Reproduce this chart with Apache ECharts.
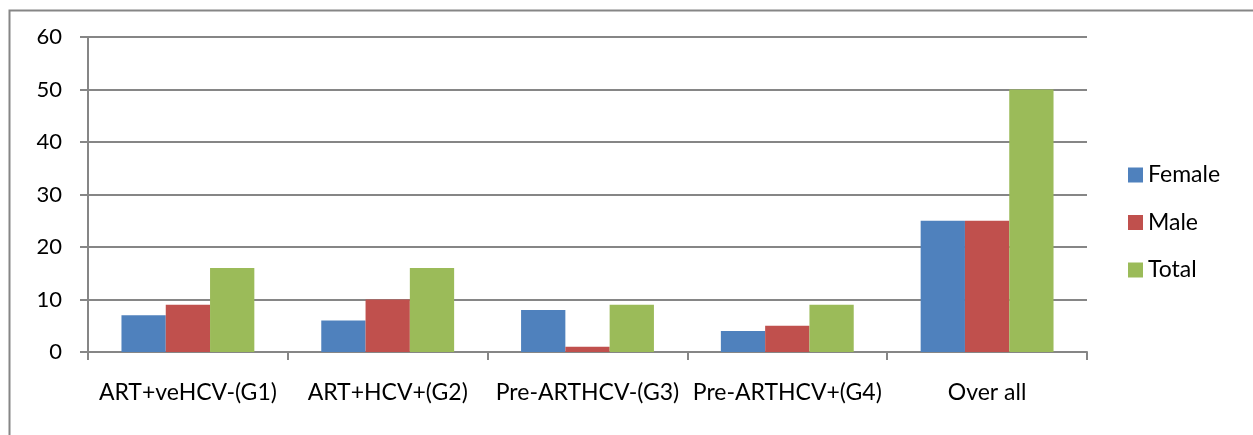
<!DOCTYPE html>
<html>
<head>
<meta charset="utf-8">
<script src="https://cdn.jsdelivr.net/npm/echarts@6/dist/echarts.min.js"></script>
<style>html,body{margin:0;padding:0;background:#fff;}#c{width:1253px;height:435px;}</style>
</head>
<body>
<div id="c"></div>
<script>
const categories = ['ART+veHCV-(G1)', 'ART+HCV+(G2)', 'Pre-ARTHCV-(G3)', 'Pre-ARTHCV+(G4)', 'Over all'];
const female = [7, 6, 8, 4, 25];
const male = [9, 10, 1, 5, 25];
const total = [16, 16, 9, 9, 50];
const yTicks = [0, 10, 20, 30, 40, 50, 60];

const chart = echarts.init(document.getElementById('c'), null, {renderer: 'canvas'});
const font = 'Lato, "Liberation Sans", sans-serif';
const gray = '#868686';
chart.setOption({
  animation: false,
  color: ['#4F81BD', '#C0504D', '#9BBB59'],
  textStyle: {fontFamily: font},
  graphic: [{
    type: 'rect', left: 7, top: 8, silent: true,
    shape: {x: 0, y: 0, width: 1270, height: 450},
    style: {fill: 'none', stroke: gray, lineWidth: 2}
  }],
  grid: {left: 88, top: 37, right: 166, bottom: 83},
  legend: {
    orient: 'vertical', left: 1123, top: 158, itemGap: 23.5, padding: 5,
    itemWidth: 15, itemHeight: 15, icon: 'rect',
    textStyle: {fontSize: 23, lineHeight: 24, color: '#000', fontFamily: font},
    data: ['Female', 'Male', 'Total']
  },
  xAxis: {
    type: 'category', data: categories,
    axisLine: {lineStyle: {color: gray, width: 2}},
    axisTick: {show: true, length: 8, lineStyle: {color: gray, width: 2}},
    axisLabel: {color: '#000', fontSize: 23, margin: 29, fontFamily: font, interval: 0}
  },
  yAxis: {
    type: 'value', min: yTicks[0], max: yTicks[yTicks.length - 1], interval: 10,
    axisLine: {show: true, lineStyle: {color: gray, width: 2}},
    axisTick: {show: true, length: 8, lineStyle: {color: gray, width: 2}},
    axisLabel: {color: '#000', fontSize: 22, margin: 26, fontFamily: font},
    splitLine: {lineStyle: {color: gray, width: 2}}
  },
  series: [
    {name: 'Female', type: 'bar', data: female, barGap: '0%', barCategoryGap: '33.5%'},
    {name: 'Male', type: 'bar', data: male, barGap: '0%', barCategoryGap: '33.5%'},
    {name: 'Total', type: 'bar', data: total, barGap: '0%', barCategoryGap: '33.5%'}
  ]
});
</script>
</body>
</html>
